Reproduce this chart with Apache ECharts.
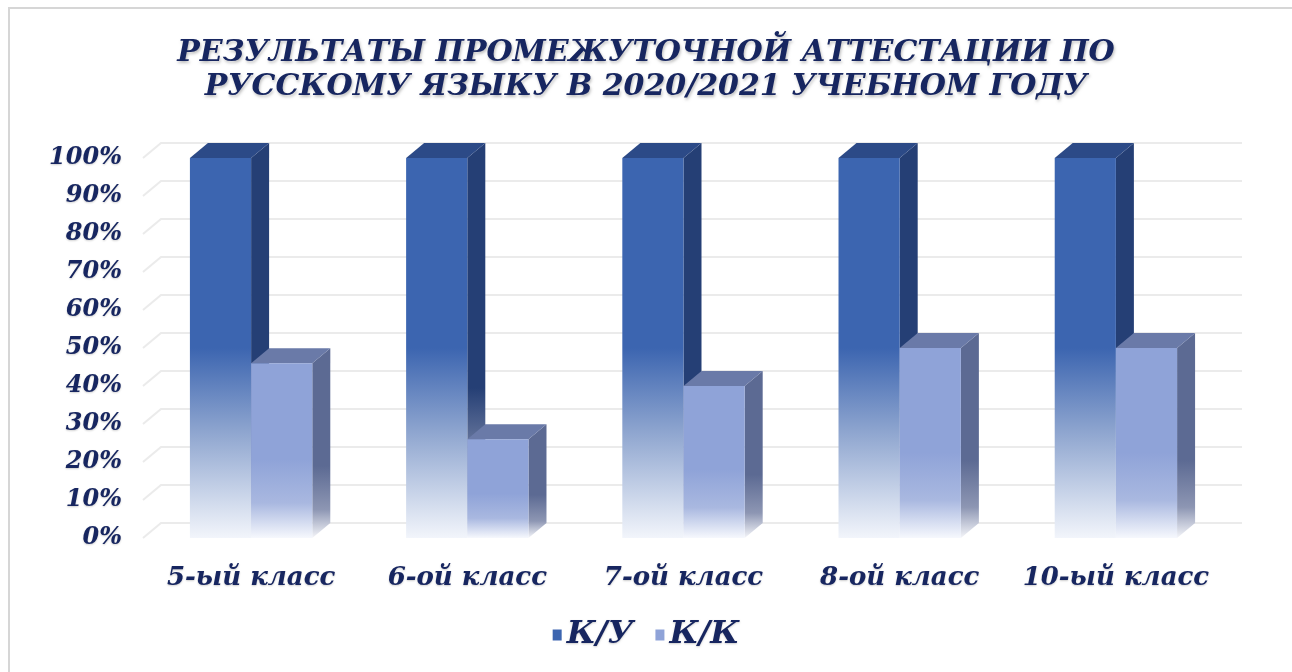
<!DOCTYPE html>
<html><head><meta charset="utf-8">
<script src="https://cdn.jsdelivr.net/npm/echarts@6/dist/echarts.min.js"></script>
<style>html,body{margin:0;padding:0;background:#fff}#c{width:1292px;height:672px}</style>
</head><body><div id="c"></div>
<script>
const categories = ['5-ый класс', '6-ой класс', '7-ой класс', '8-ой класс', '10-ый класс'];
const seriesNames = ['К/У', 'К/К'];
const kuValues = [100, 100, 100, 100, 100];
const kkValues = [46, 26, 40, 50, 50];
const yTicks = [0, 10, 20, 30, 40, 50, 60, 70, 80, 90, 100];

const DX = 18, DY = -15;
const BAR_FRAC = 0.283;
const TXT = '#172660';
const FONT = '"DejaVu Serif", serif';

const palettes = [
  { front: ['#3c65b0', '#3c65b0', '#8ea5cf', '#f2f5fb'], stops: [0, 0.5, 0.72, 1], side: '#253f75', top: '#2c4a87' },
  { front: ['#8fa3d8', '#8fa3d8', '#a9b8e0', '#f6f8fd'], stops: [0, 0.55, 0.8, 1], side: '#5c6a93', top: '#6a7aa8' }
];

function barRender(si) {
  return function (params, api) {
    const idx = api.value(0), val = api.value(1);
    const top = api.coord([idx, val]);
    const base = api.coord([idx, 0]);
    const band = api.size([1, 0])[0];
    const w = band * BAR_FRAC;
    const x0 = si === 0 ? top[0] - w : top[0];
    const x1 = x0 + w;
    const yT = top[1], yB = base[1];
    const p = palettes[si];
    const frontGrad = new echarts.graphic.LinearGradient(0, 0, 0, 1,
      p.front.map((c, i) => ({ offset: p.stops[i], color: c })));
    const sideGrad = new echarts.graphic.LinearGradient(0, 0, 0, 1, [
      { offset: 0, color: p.side }, { offset: 0.62, color: p.side },
      { offset: 0.85, color: '#8d96b3' }, { offset: 1, color: '#f4f5f9' }]);
    return {
      type: 'group',
      children: [
        { type: 'polygon', shape: { points: [[x1, yT], [x1 + DX, yT + DY], [x1 + DX, yB + DY], [x1, yB]] },
          style: { fill: sideGrad } },
        { type: 'polygon', shape: { points: [[x0, yT], [x0 + DX, yT + DY], [x1 + DX, yT + DY], [x1, yT]] },
          style: { fill: p.top } },
        { type: 'rect', shape: { x: x0, y: yT, width: w, height: yB - yT },
          style: { fill: frontGrad } }
      ]
    };
  };
}

function wallRender(params, api) {
  const v = api.value(0);
  const cs = params.coordSys;
  const y = api.coord([0, v])[1];
  return {
    type: 'polyline',
    shape: { points: [[cs.x, y], [cs.x + DX, y + DY], [cs.x + cs.width + DX, y + DY]] },
    style: { stroke: '#ebebeb', lineWidth: 2, fill: null }
  };
}

const chart = echarts.init(document.getElementById('c'));
chart.setOption({
  animation: false,
  backgroundColor: '#ffffff',
  graphic: [
    { type: 'rect', shape: { x: 9, y: 8, width: 1300, height: 700 },
      style: { fill: 'none', stroke: '#d6d6d6', lineWidth: 2 } }
  ],
  title: {
    text: 'РЕЗУЛЬТАТЫ ПРОМЕЖУТОЧНОЙ АТТЕСТАЦИИ ПО\nРУССКОМУ ЯЗЫКУ В 2020/2021 УЧЕБНОМ ГОДУ',
    left: 'center', top: 31,
    textStyle: {
      fontFamily: FONT, fontStyle: 'italic', fontWeight: 'bold',
      fontSize: 30, lineHeight: 34, color: TXT,
      textShadowColor: 'rgba(0,0,0,0.25)', textShadowBlur: 3, textShadowOffsetX: 1, textShadowOffsetY: 2
    }
  },
  legend: {
    bottom: 16, left: 'center', itemWidth: 9, itemHeight: 11, itemGap: 22,
    data: [
      { name: seriesNames[0], itemStyle: { color: '#3c65b0' } },
      { name: seriesNames[1], itemStyle: { color: '#8fa3d8' } }
    ],
    icon: 'rect',
    textStyle: { fontFamily: FONT, fontStyle: 'italic', fontWeight: 'bold', fontSize: 32, color: TXT,
      textShadowColor: 'rgba(0,0,0,0.2)', textShadowBlur: 2, textShadowOffsetY: 1 }
  },
  grid: { left: 143, right: 68, top: 158, bottom: 134 },
  xAxis: {
    type: 'category', data: categories,
    axisLine: { show: false }, axisTick: { show: false },
    axisLabel: { interval: 0, hideOverlap: false, margin: 27, fontFamily: FONT, fontStyle: 'italic', fontWeight: 'bold', fontSize: 26, color: TXT,
      textShadowColor: 'rgba(0,0,0,0.2)', textShadowBlur: 2, textShadowOffsetY: 1 }
  },
  yAxis: {
    type: 'value', min: 0, max: 100, interval: 10,
    splitLine: { show: false }, axisLine: { show: false }, axisTick: { show: false },
    axisLabel: { margin: 21, formatter: '{value}%', fontFamily: FONT, fontStyle: 'italic', fontWeight: 'bold', fontSize: 24, color: TXT,
      textShadowColor: 'rgba(0,0,0,0.2)', textShadowBlur: 2, textShadowOffsetY: 1 }
  },
  series: [
    { type: 'custom', name: 'walls', renderItem: wallRender, data: yTicks.map(v => [v]), silent: true, z: 1,
      encode: { y: 0 } },
    { type: 'custom', name: seriesNames[0], renderItem: barRender(0), data: kuValues.map((v, i) => [i, v]), z: 2,
      encode: { x: 0, y: 1 }, itemStyle: { color: '#3c65b0' } },
    { type: 'custom', name: seriesNames[1], renderItem: barRender(1), data: kkValues.map((v, i) => [i, v]), z: 3,
      encode: { x: 0, y: 1 }, itemStyle: { color: '#8fa3d8' } }
  ]
});
</script></body></html>
